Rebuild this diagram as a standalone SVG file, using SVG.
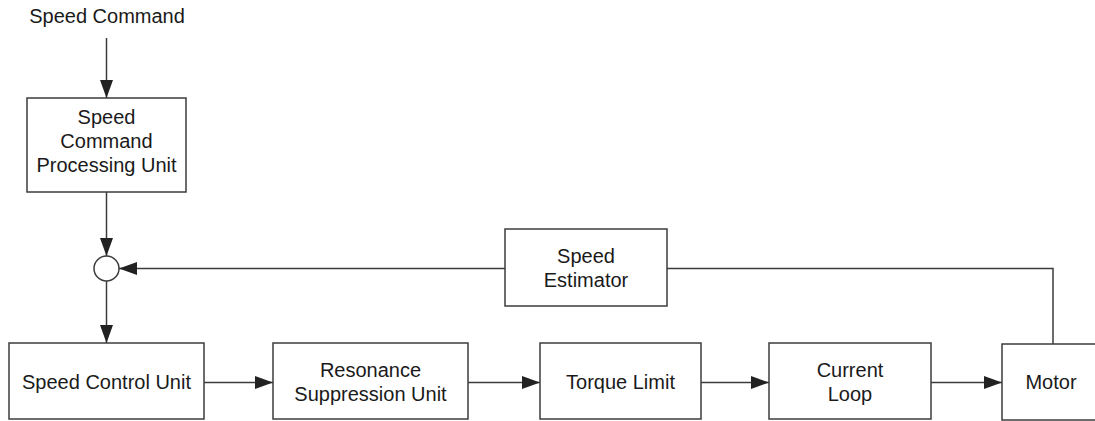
<svg xmlns="http://www.w3.org/2000/svg" width="1095" height="421" viewBox="0 0 1095 421">
  <style>
    .box { fill: #ffffff; stroke: #3c3c3c; stroke-width: 1.5; }
    .lbl { font-family: "Liberation Sans", Arial, sans-serif; font-size: 20px; fill: #1a1a1a; text-anchor: middle; }
    .wire { fill: none; stroke: #3c3c3c; stroke-width: 1.5; }
    .arr { marker-end: url(#ah); }
  </style>
  <defs>
    <marker id="ah" markerUnits="userSpaceOnUse" markerWidth="18" markerHeight="13" refX="18" refY="6.5" orient="auto">
      <path d="M0,0 L18,6.5 L0,13 Z" fill="#222222"/>
    </marker>
  </defs>
  <rect width="1095" height="421" fill="#ffffff"/>

  <g id="speed-command-label">
    <text class="lbl" x="107" y="23">Speed Command</text>
  </g>

  <g id="speed-command-processing-unit">
    <rect class="box" x="27" y="98" width="159" height="94"/>
    <text class="lbl" x="106.5" y="124">Speed</text>
    <text class="lbl" x="106.5" y="148">Command</text>
    <text class="lbl" x="106.5" y="172">Processing Unit</text>
  </g>

  <g id="summing-junction">
    <circle cx="106.5" cy="268.5" r="12.5" fill="#ffffff" stroke="#3c3c3c" stroke-width="1.5"/>
  </g>

  <g id="speed-estimator">
    <rect class="box" x="505" y="229" width="162" height="77"/>
    <text class="lbl" x="586" y="263">Speed</text>
    <text class="lbl" x="586" y="287">Estimator</text>
  </g>

  <g id="speed-control-unit">
    <rect class="box" x="9" y="343" width="195" height="76"/>
    <text class="lbl" x="106.5" y="389">Speed Control Unit</text>
  </g>

  <g id="resonance-suppression-unit">
    <rect class="box" x="273" y="343" width="195" height="76"/>
    <text class="lbl" x="370.5" y="377">Resonance</text>
    <text class="lbl" x="370.5" y="401">Suppression Unit</text>
  </g>

  <g id="torque-limit">
    <rect class="box" x="540" y="343" width="161" height="76"/>
    <text class="lbl" x="620.5" y="389">Torque Limit</text>
  </g>

  <g id="current-loop">
    <rect class="box" x="769" y="343" width="162" height="76"/>
    <text class="lbl" x="850" y="377">Current</text>
    <text class="lbl" x="850" y="401">Loop</text>
  </g>

  <g id="motor">
    <rect class="box" x="1002" y="344" width="100" height="76"/>
    <text class="lbl" x="1051" y="389">Motor</text>
  </g>

  <g id="connectors">
    <line class="wire arr" x1="106.5" y1="38" x2="106.5" y2="98"/>
    <line class="wire arr" x1="106.5" y1="192" x2="106.5" y2="256"/>
    <line class="wire arr" x1="505" y1="268.5" x2="119" y2="268.5"/>
    <line class="wire arr" x1="106.5" y1="281" x2="106.5" y2="343"/>
    <line class="wire arr" x1="204" y1="382.5" x2="273" y2="382.5"/>
    <line class="wire arr" x1="468" y1="382.5" x2="540" y2="382.5"/>
    <line class="wire arr" x1="701" y1="382.5" x2="769" y2="382.5"/>
    <line class="wire arr" x1="931" y1="382.5" x2="1002" y2="382.5"/>
    <polyline class="wire" points="667,268.5 1053,268.5 1053,344"/>
  </g>
</svg>
